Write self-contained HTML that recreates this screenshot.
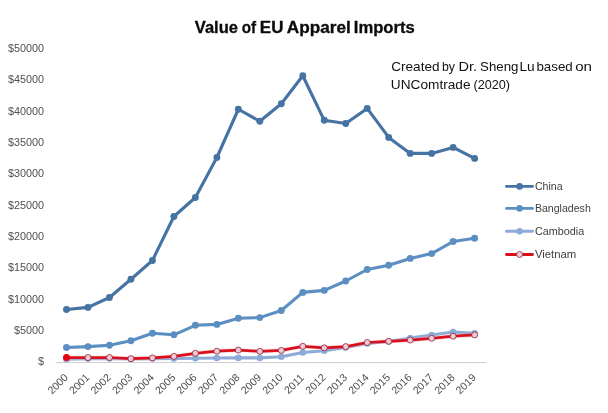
<!DOCTYPE html>
<html lang="en"><head><meta charset="utf-8"><title>Value of EU Apparel Imports</title>
<style>html,body{margin:0;padding:0;background:#fff;}body{width:608px;height:413px;overflow:hidden;}svg{display:block;}text{font-family:"Liberation Sans",Arial,sans-serif;}</style></head><body>
<svg width="608" height="413" viewBox="0 0 608 413">
<rect width="608" height="413" fill="#ffffff"/>
<text x="194.79" y="33.0" font-size="16.0" font-weight="bold" stroke="#0a0a0a" stroke-width="0.3" fill="#0a0a0a" textLength="43.16" lengthAdjust="spacingAndGlyphs">Value</text>
<text x="241.71" y="33.0" font-size="16.0" font-weight="bold" stroke="#0a0a0a" stroke-width="0.3" fill="#0a0a0a" textLength="14.36" lengthAdjust="spacingAndGlyphs">of</text>
<text x="259.86" y="33.0" font-size="16.0" font-weight="bold" stroke="#0a0a0a" stroke-width="0.3" fill="#0a0a0a" textLength="23.57" lengthAdjust="spacingAndGlyphs">EU</text>
<text x="286.87" y="33.0" font-size="16.0" font-weight="bold" stroke="#0a0a0a" stroke-width="0.3" fill="#0a0a0a" textLength="64.05" lengthAdjust="spacingAndGlyphs">Apparel</text>
<text x="353.79" y="33.0" font-size="16.0" font-weight="bold" stroke="#0a0a0a" stroke-width="0.3" fill="#0a0a0a" textLength="60.99" lengthAdjust="spacingAndGlyphs">Imports</text>
<text x="391.21" y="70.9" font-size="12.2" fill="#111111" textLength="48.37" lengthAdjust="spacingAndGlyphs">Created</text>
<text x="442.01" y="70.9" font-size="12.2" fill="#111111" textLength="13.02" lengthAdjust="spacingAndGlyphs">by</text>
<text x="458.45" y="70.9" font-size="12.2" fill="#111111" textLength="18.62" lengthAdjust="spacingAndGlyphs">Dr.</text>
<text x="480.10" y="70.9" font-size="12.2" fill="#111111" textLength="38.36" lengthAdjust="spacingAndGlyphs">Sheng</text>
<text x="519.48" y="70.9" font-size="12.2" fill="#111111" textLength="15.23" lengthAdjust="spacingAndGlyphs">Lu</text>
<text x="536.44" y="70.9" font-size="12.2" fill="#111111" textLength="36.32" lengthAdjust="spacingAndGlyphs">based</text>
<text x="575.17" y="70.9" font-size="12.2" fill="#111111" textLength="16.82" lengthAdjust="spacingAndGlyphs">on</text>
<text x="390.85" y="88.6" font-size="12.2" fill="#111111" textLength="79.66" lengthAdjust="spacingAndGlyphs">UNComtrade</text>
<text x="473.41" y="88.6" font-size="12.2" fill="#111111" textLength="36.67" lengthAdjust="spacingAndGlyphs">(2020)</text>
<text x="44.1" y="365.15" text-anchor="end" font-size="10.8" fill="#4f4f4f">$</text>
<text x="44.1" y="333.84" text-anchor="end" font-size="10.8" fill="#4f4f4f">$5000</text>
<text x="44.1" y="302.53" text-anchor="end" font-size="10.8" fill="#4f4f4f">$10000</text>
<text x="44.1" y="271.22" text-anchor="end" font-size="10.8" fill="#4f4f4f">$15000</text>
<text x="44.1" y="239.91" text-anchor="end" font-size="10.8" fill="#4f4f4f">$20000</text>
<text x="44.1" y="208.60" text-anchor="end" font-size="10.8" fill="#4f4f4f">$25000</text>
<text x="44.1" y="177.29" text-anchor="end" font-size="10.8" fill="#4f4f4f">$30000</text>
<text x="44.1" y="145.98" text-anchor="end" font-size="10.8" fill="#4f4f4f">$35000</text>
<text x="44.1" y="114.67" text-anchor="end" font-size="10.8" fill="#4f4f4f">$40000</text>
<text x="44.1" y="83.36" text-anchor="end" font-size="10.8" fill="#4f4f4f">$45000</text>
<text x="44.1" y="52.05" text-anchor="end" font-size="10.8" fill="#4f4f4f">$50000</text>
<line x1="55.5" y1="362.6" x2="486.6" y2="362.6" stroke="#cdcdcd" stroke-width="1"/>
<text x="57.65" y="387.60" text-anchor="middle" font-size="10.6" fill="#4f4f4f" transform="rotate(-45 57.65 383.80)">2000</text>
<text x="79.13" y="387.60" text-anchor="middle" font-size="10.6" fill="#4f4f4f" transform="rotate(-45 79.13 383.80)">2001</text>
<text x="100.61" y="387.60" text-anchor="middle" font-size="10.6" fill="#4f4f4f" transform="rotate(-45 100.61 383.80)">2002</text>
<text x="122.09" y="387.60" text-anchor="middle" font-size="10.6" fill="#4f4f4f" transform="rotate(-45 122.09 383.80)">2003</text>
<text x="143.57" y="387.60" text-anchor="middle" font-size="10.6" fill="#4f4f4f" transform="rotate(-45 143.57 383.80)">2004</text>
<text x="165.05" y="387.60" text-anchor="middle" font-size="10.6" fill="#4f4f4f" transform="rotate(-45 165.05 383.80)">2005</text>
<text x="186.53" y="387.60" text-anchor="middle" font-size="10.6" fill="#4f4f4f" transform="rotate(-45 186.53 383.80)">2006</text>
<text x="208.01" y="387.60" text-anchor="middle" font-size="10.6" fill="#4f4f4f" transform="rotate(-45 208.01 383.80)">2007</text>
<text x="229.49" y="387.60" text-anchor="middle" font-size="10.6" fill="#4f4f4f" transform="rotate(-45 229.49 383.80)">2008</text>
<text x="250.97" y="387.60" text-anchor="middle" font-size="10.6" fill="#4f4f4f" transform="rotate(-45 250.97 383.80)">2009</text>
<text x="272.45" y="387.60" text-anchor="middle" font-size="10.6" fill="#4f4f4f" transform="rotate(-45 272.45 383.80)">2010</text>
<text x="293.93" y="387.60" text-anchor="middle" font-size="10.6" fill="#4f4f4f" transform="rotate(-45 293.93 383.80)">2011</text>
<text x="315.41" y="387.60" text-anchor="middle" font-size="10.6" fill="#4f4f4f" transform="rotate(-45 315.41 383.80)">2012</text>
<text x="336.89" y="387.60" text-anchor="middle" font-size="10.6" fill="#4f4f4f" transform="rotate(-45 336.89 383.80)">2013</text>
<text x="358.37" y="387.60" text-anchor="middle" font-size="10.6" fill="#4f4f4f" transform="rotate(-45 358.37 383.80)">2014</text>
<text x="379.85" y="387.60" text-anchor="middle" font-size="10.6" fill="#4f4f4f" transform="rotate(-45 379.85 383.80)">2015</text>
<text x="401.33" y="387.60" text-anchor="middle" font-size="10.6" fill="#4f4f4f" transform="rotate(-45 401.33 383.80)">2016</text>
<text x="422.81" y="387.60" text-anchor="middle" font-size="10.6" fill="#4f4f4f" transform="rotate(-45 422.81 383.80)">2017</text>
<text x="444.29" y="387.60" text-anchor="middle" font-size="10.6" fill="#4f4f4f" transform="rotate(-45 444.29 383.80)">2018</text>
<text x="465.77" y="387.60" text-anchor="middle" font-size="10.6" fill="#4f4f4f" transform="rotate(-45 465.77 383.80)">2019</text>
<polyline points="66.50,309.50 87.98,307.40 109.46,297.50 130.94,279.25 152.42,260.50 173.90,216.50 195.38,197.50 216.86,157.50 238.34,109.25 259.82,121.25 281.30,103.75 302.78,75.75 324.26,120.30 345.74,123.50 367.22,108.40 388.70,137.40 410.18,153.40 431.66,153.40 453.14,147.40 474.62,158.40" fill="none" stroke="#4573a2" stroke-width="3.1" stroke-linejoin="round" stroke-linecap="round"/>
<circle cx="66.50" cy="309.50" r="3.45" fill="#4573a2"/>
<circle cx="87.98" cy="307.40" r="3.45" fill="#4573a2"/>
<circle cx="109.46" cy="297.50" r="3.45" fill="#4573a2"/>
<circle cx="130.94" cy="279.25" r="3.45" fill="#4573a2"/>
<circle cx="152.42" cy="260.50" r="3.45" fill="#4573a2"/>
<circle cx="173.90" cy="216.50" r="3.45" fill="#4573a2"/>
<circle cx="195.38" cy="197.50" r="3.45" fill="#4573a2"/>
<circle cx="216.86" cy="157.50" r="3.45" fill="#4573a2"/>
<circle cx="238.34" cy="109.25" r="3.45" fill="#4573a2"/>
<circle cx="259.82" cy="121.25" r="3.45" fill="#4573a2"/>
<circle cx="281.30" cy="103.75" r="3.45" fill="#4573a2"/>
<circle cx="302.78" cy="75.75" r="3.45" fill="#4573a2"/>
<circle cx="324.26" cy="120.30" r="3.45" fill="#4573a2"/>
<circle cx="345.74" cy="123.50" r="3.45" fill="#4573a2"/>
<circle cx="367.22" cy="108.40" r="3.45" fill="#4573a2"/>
<circle cx="388.70" cy="137.40" r="3.45" fill="#4573a2"/>
<circle cx="410.18" cy="153.40" r="3.45" fill="#4573a2"/>
<circle cx="431.66" cy="153.40" r="3.45" fill="#4573a2"/>
<circle cx="453.14" cy="147.40" r="3.45" fill="#4573a2"/>
<circle cx="474.62" cy="158.40" r="3.45" fill="#4573a2"/>
<polyline points="66.50,347.50 87.98,346.60 109.46,345.30 130.94,340.70 152.42,333.30 173.90,334.80 195.38,325.30 216.86,324.40 238.34,318.20 259.82,317.60 281.30,310.50 302.78,292.40 324.26,290.40 345.74,281.00 367.22,269.50 388.70,265.30 410.18,258.40 431.66,253.60 453.14,241.50 474.62,238.30" fill="none" stroke="#5b8fc2" stroke-width="3.1" stroke-linejoin="round" stroke-linecap="round"/>
<circle cx="66.50" cy="347.50" r="3.45" fill="#5b8fc2"/>
<circle cx="87.98" cy="346.60" r="3.45" fill="#5b8fc2"/>
<circle cx="109.46" cy="345.30" r="3.45" fill="#5b8fc2"/>
<circle cx="130.94" cy="340.70" r="3.45" fill="#5b8fc2"/>
<circle cx="152.42" cy="333.30" r="3.45" fill="#5b8fc2"/>
<circle cx="173.90" cy="334.80" r="3.45" fill="#5b8fc2"/>
<circle cx="195.38" cy="325.30" r="3.45" fill="#5b8fc2"/>
<circle cx="216.86" cy="324.40" r="3.45" fill="#5b8fc2"/>
<circle cx="238.34" cy="318.20" r="3.45" fill="#5b8fc2"/>
<circle cx="259.82" cy="317.60" r="3.45" fill="#5b8fc2"/>
<circle cx="281.30" cy="310.50" r="3.45" fill="#5b8fc2"/>
<circle cx="302.78" cy="292.40" r="3.45" fill="#5b8fc2"/>
<circle cx="324.26" cy="290.40" r="3.45" fill="#5b8fc2"/>
<circle cx="345.74" cy="281.00" r="3.45" fill="#5b8fc2"/>
<circle cx="367.22" cy="269.50" r="3.45" fill="#5b8fc2"/>
<circle cx="388.70" cy="265.30" r="3.45" fill="#5b8fc2"/>
<circle cx="410.18" cy="258.40" r="3.45" fill="#5b8fc2"/>
<circle cx="431.66" cy="253.60" r="3.45" fill="#5b8fc2"/>
<circle cx="453.14" cy="241.50" r="3.45" fill="#5b8fc2"/>
<circle cx="474.62" cy="238.30" r="3.45" fill="#5b8fc2"/>
<polyline points="66.50,359.30 87.98,358.60 109.46,358.40 130.94,359.00 152.42,358.60 173.90,358.50 195.38,358.20 216.86,358.00 238.34,357.90 259.82,357.90 281.30,356.70 302.78,352.50 324.26,350.80 345.74,347.50 367.22,343.50 388.70,341.50 410.18,338.00 431.66,335.00 453.14,332.00 474.62,333.30" fill="none" stroke="#8dabd7" stroke-width="3.1" stroke-linejoin="round" stroke-linecap="round"/>
<circle cx="66.50" cy="359.30" r="3.3" fill="#8dabd7"/>
<circle cx="87.98" cy="358.60" r="3.3" fill="#8dabd7"/>
<circle cx="109.46" cy="358.40" r="3.3" fill="#8dabd7"/>
<circle cx="130.94" cy="359.00" r="3.3" fill="#8dabd7"/>
<circle cx="152.42" cy="358.60" r="3.3" fill="#8dabd7"/>
<circle cx="173.90" cy="358.50" r="3.3" fill="#8dabd7"/>
<circle cx="195.38" cy="358.20" r="3.3" fill="#8dabd7"/>
<circle cx="216.86" cy="358.00" r="3.3" fill="#8dabd7"/>
<circle cx="238.34" cy="357.90" r="3.3" fill="#8dabd7"/>
<circle cx="259.82" cy="357.90" r="3.3" fill="#8dabd7"/>
<circle cx="281.30" cy="356.70" r="3.3" fill="#8dabd7"/>
<circle cx="302.78" cy="352.50" r="3.3" fill="#8dabd7"/>
<circle cx="324.26" cy="350.80" r="3.3" fill="#8dabd7"/>
<circle cx="345.74" cy="347.50" r="3.3" fill="#8dabd7"/>
<circle cx="367.22" cy="343.50" r="3.3" fill="#8dabd7"/>
<circle cx="388.70" cy="341.50" r="3.3" fill="#8dabd7"/>
<circle cx="410.18" cy="338.00" r="3.3" fill="#8dabd7"/>
<circle cx="431.66" cy="335.00" r="3.3" fill="#8dabd7"/>
<circle cx="453.14" cy="332.00" r="3.3" fill="#8dabd7"/>
<circle cx="474.62" cy="333.30" r="3.3" fill="#8dabd7"/>
<polyline points="66.50,357.60 87.98,357.60 109.46,357.50 130.94,358.70 152.42,357.90 173.90,356.40 195.38,353.30 216.86,351.20 238.34,350.10 259.82,351.30 281.30,350.40 302.78,346.30 324.26,347.80 345.74,346.60 367.22,342.50 388.70,341.30 410.18,340.10 431.66,338.30 453.14,336.20 474.62,334.90" fill="none" stroke="#f3b6bd" stroke-opacity="0.35" stroke-width="4.4" stroke-linejoin="round" stroke-linecap="round"/>
<polyline points="66.50,357.60 87.98,357.60 109.46,357.50 130.94,358.70 152.42,357.90 173.90,356.40 195.38,353.30 216.86,351.20 238.34,350.10 259.82,351.30 281.30,350.40 302.78,346.30 324.26,347.80 345.74,346.60 367.22,342.50 388.70,341.30 410.18,340.10 431.66,338.30 453.14,336.20 474.62,334.90" fill="none" stroke="#d90f1c" stroke-width="2.75" stroke-linejoin="round" stroke-linecap="round"/>
<circle cx="66.50" cy="357.60" r="3.5" fill="#e8000f"/>
<circle cx="87.98" cy="357.60" r="3.0" fill="#efcbd9" stroke="#951a33" stroke-width="0.8"/>
<circle cx="109.46" cy="357.50" r="3.0" fill="#efcbd9" stroke="#951a33" stroke-width="0.8"/>
<circle cx="130.94" cy="358.70" r="3.0" fill="#efcbd9" stroke="#951a33" stroke-width="0.8"/>
<circle cx="152.42" cy="357.90" r="3.0" fill="#efcbd9" stroke="#951a33" stroke-width="0.8"/>
<circle cx="173.90" cy="356.40" r="3.0" fill="#efcbd9" stroke="#951a33" stroke-width="0.8"/>
<circle cx="195.38" cy="353.30" r="3.0" fill="#efcbd9" stroke="#951a33" stroke-width="0.8"/>
<circle cx="216.86" cy="351.20" r="3.0" fill="#efcbd9" stroke="#951a33" stroke-width="0.8"/>
<circle cx="238.34" cy="350.10" r="3.0" fill="#efcbd9" stroke="#951a33" stroke-width="0.8"/>
<circle cx="259.82" cy="351.30" r="3.0" fill="#efcbd9" stroke="#951a33" stroke-width="0.8"/>
<circle cx="281.30" cy="350.40" r="3.0" fill="#efcbd9" stroke="#951a33" stroke-width="0.8"/>
<circle cx="302.78" cy="346.30" r="3.0" fill="#efcbd9" stroke="#951a33" stroke-width="0.8"/>
<circle cx="324.26" cy="347.80" r="3.0" fill="#efcbd9" stroke="#951a33" stroke-width="0.8"/>
<circle cx="345.74" cy="346.60" r="3.0" fill="#efcbd9" stroke="#951a33" stroke-width="0.8"/>
<circle cx="367.22" cy="342.50" r="3.0" fill="#efcbd9" stroke="#951a33" stroke-width="0.8"/>
<circle cx="388.70" cy="341.30" r="3.0" fill="#efcbd9" stroke="#951a33" stroke-width="0.8"/>
<circle cx="410.18" cy="340.10" r="3.0" fill="#efcbd9" stroke="#951a33" stroke-width="0.8"/>
<circle cx="431.66" cy="338.30" r="3.0" fill="#efcbd9" stroke="#951a33" stroke-width="0.8"/>
<circle cx="453.14" cy="336.20" r="3.0" fill="#efcbd9" stroke="#951a33" stroke-width="0.8"/>
<circle cx="474.62" cy="334.90" r="3.0" fill="#efcbd9" stroke="#951a33" stroke-width="0.8"/>
<line x1="506.5" y1="186.4" x2="532.5" y2="186.4" stroke="#4573a2" stroke-width="2.9" stroke-linecap="round"/>
<circle cx="519.6" cy="186.4" r="3.3" fill="#4573a2"/>
<text x="534.9" y="190.20" font-size="10.6" fill="#404040" textLength="27.8" lengthAdjust="spacingAndGlyphs">China</text>
<line x1="506.5" y1="208.4" x2="532.5" y2="208.4" stroke="#5b8fc2" stroke-width="2.9" stroke-linecap="round"/>
<circle cx="519.6" cy="208.4" r="3.3" fill="#5b8fc2"/>
<text x="534.9" y="212.20" font-size="10.6" fill="#404040" textLength="55.9" lengthAdjust="spacingAndGlyphs">Bangladesh</text>
<line x1="506.5" y1="231.2" x2="532.5" y2="231.2" stroke="#8dabd7" stroke-width="2.9" stroke-linecap="round"/>
<circle cx="519.6" cy="231.2" r="3.3" fill="#8dabd7"/>
<text x="534.9" y="235.00" font-size="10.6" fill="#404040" textLength="49.3" lengthAdjust="spacingAndGlyphs">Cambodia</text>
<line x1="506.5" y1="254.5" x2="532.5" y2="254.5" stroke="#d90f1c" stroke-width="2.9" stroke-linecap="round"/>
<circle cx="519.6" cy="254.5" r="3.0" fill="#efcbd9" stroke="#951a33" stroke-width="0.8"/>
<text x="534.9" y="258.30" font-size="10.6" fill="#404040" textLength="41.3" lengthAdjust="spacingAndGlyphs">Vietnam</text>
</svg></body></html>
